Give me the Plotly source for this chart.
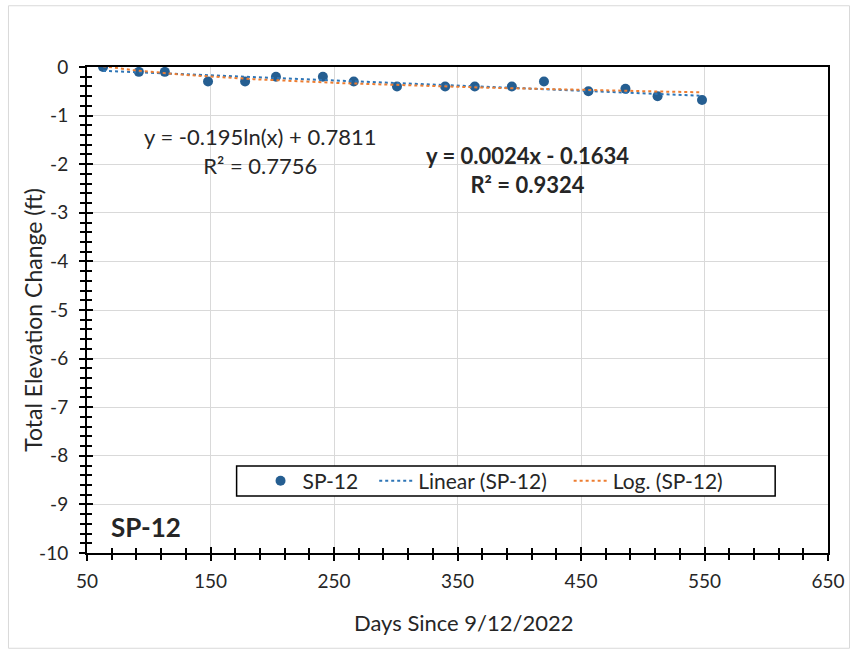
import numpy as np
import plotly.graph_objects as go

# Survey point SP-12: days since baseline vs. cumulative elevation change (ft)
days = [63, 92, 113, 148, 178, 203, 241, 266, 301, 340, 364, 394, 420, 456, 486, 512, 548]
elev_change = [0.0, -0.1, -0.1, -0.3, -0.3, -0.2, -0.2, -0.3, -0.4, -0.4, -0.4, -0.4, -0.3,
               -0.5, -0.45, -0.6, -0.68]

x_ticks = [50, 150, 250, 350, 450, 550, 650]
x_tick_text = ["50", "150", "250", "350", "450", "550", "650"]
y_ticks = [0, -1, -2, -3, -4, -5, -6, -7, -8, -9, -10]
y_tick_text = ["0", "-1", "-2", "-3", "-4", "-5", "-6", "-7", "-8", "-9", "-10"]

series_name = "SP-12"
linear_eq = "y = 0.0024x - 0.1634<br>R² = 0.9324"
log_eq = "y = -0.195ln(x) + 0.7811<br>R² = 0.7756"
y_title = "Total Elevation Change (ft)"
x_title = "Days Since 9/12/2022"

BLUE = "#255E91"
LINE_BLUE = "#2E75B6"
ORANGE = "#ED7D31"
TEXT = "#262626"
FONT = "Lato"

x = np.array(days, dtype=float)
y = np.array(elev_change, dtype=float)

# least-squares trendlines
lin_c = np.polyfit(x, y, 1)
log_c = np.polyfit(np.log(x), y, 1)
xs = np.linspace(x.min(), x.max(), 200)
lin_y = np.polyval(lin_c, xs)
log_y = np.polyval(log_c, np.log(xs))

fig = go.Figure()
fig.add_trace(go.Scatter(x=x, y=y, mode="markers", name=series_name, legend="legend",
                         showlegend=True, marker=dict(color=BLUE, size=10)))
fig.add_trace(go.Scatter(x=xs, y=lin_y, mode="lines", name=f"Linear ({series_name})",
                         legend="legend2", showlegend=True,
                         line=dict(color=LINE_BLUE, width=2, dash="dot")))
fig.add_trace(go.Scatter(x=xs, y=log_y, mode="lines", name=f"Log. ({series_name})",
                         legend="legend3", showlegend=True,
                         line=dict(color=ORANGE, width=2, dash="dot")))
# empty trace that hosts the inner tick axes
fig.add_trace(go.Scatter(x=[], y=[], xaxis="x2", yaxis="y2", showlegend=False,
                         hoverinfo="skip"))

xr = [50, 650]
yr = [-10, 0]
tickfont = dict(family=FONT, size=19, color=TEXT)
tick_common = dict(ticklen=6, tickwidth=1.5, tickcolor="black")


def legend_at(px):
    return dict(orientation="h", x=px, y=0.148, xanchor="left", yanchor="middle",
                borderwidth=0, bgcolor="rgba(0,0,0,0)", itemwidth=34,
                font=dict(family=FONT, size=21, color=TEXT))


fig.update_layout(
    width=857, height=654,
    margin=dict(l=87, r=27, t=67, b=101),
    paper_bgcolor="white", plot_bgcolor="white",
    font=dict(family=FONT, size=19, color=TEXT),
    showlegend=True,
    xaxis=dict(range=xr, tickmode="array", tickvals=x_ticks, ticktext=x_tick_text,
               showgrid=True, gridcolor="#D9D9D9", gridwidth=1,
               showline=True, linecolor="black", linewidth=2, mirror=True,
               ticks="outside", **tick_common, ticklabelstandoff=4,
               minor=dict(dtick=20, tick0=50, ticks="outside", ticklen=5, tickwidth=1.5,
                          tickcolor="black", showgrid=False),
               zeroline=False, tickfont=tickfont),
    yaxis=dict(range=yr, tickmode="array", tickvals=y_ticks, ticktext=y_tick_text,
               showgrid=True, gridcolor="#D9D9D9", gridwidth=1,
               showline=True, linecolor="black", linewidth=2, mirror=True,
               ticks="outside", **tick_common, ticklabelstandoff=7,
               minor=dict(dtick=0.2, ticks="outside", ticklen=5, tickwidth=1.5,
                          tickcolor="black", showgrid=False),
               zeroline=False, tickfont=tickfont),
    xaxis2=dict(range=xr, tickmode="array", tickvals=x_ticks, overlaying="x", anchor="y",
                side="bottom", showgrid=False, zeroline=False, showticklabels=False,
                showline=False, ticks="inside", **tick_common,
                minor=dict(dtick=20, tick0=50, ticks="inside", ticklen=5, tickwidth=1.5,
                           tickcolor="black", showgrid=False)),
    yaxis2=dict(range=yr, tickmode="array", tickvals=y_ticks, overlaying="y", anchor="x",
                side="left", showgrid=False, zeroline=False, showticklabels=False,
                showline=False, ticks="inside", **tick_common,
                minor=dict(dtick=0.2, ticks="inside", ticklen=5, tickwidth=1.5,
                           tickcolor="black", showgrid=False)),
    legend=legend_at(0.2315),
    legend2=legend_at(0.3876),
    legend3=legend_at(0.650),
)

# axis titles
fig.add_annotation(x=-0.072, y=0.479, xref="paper", yref="paper", text=y_title,
                   textangle=-90, showarrow=False, xanchor="center", yanchor="middle",
                   font=dict(family=FONT, size=23, color=TEXT))
fig.add_annotation(x=0.5087, y=-0.142, xref="paper", yref="paper", text=x_title,
                   showarrow=False, xanchor="center", yanchor="middle",
                   font=dict(family=FONT, size=22, color=TEXT))

# trendline equations and series label
fig.add_annotation(x=190, y=-1.73, xref="x", yref="y", text=log_eq, showarrow=False,
                   font=dict(family=FONT, size=22, color=TEXT), align="center")
fig.add_annotation(x=407, y=-2.11, xref="x", yref="y", text=f"<b>{linear_eq}</b>",
                   showarrow=False, font=dict(family=FONT, size=22, color=TEXT),
                   align="center")
fig.add_annotation(x=68, y=-9.47, xref="x", yref="y", text="<b>SP-12</b>", showarrow=False,
                   xanchor="left", font=dict(family=FONT, size=26, color=TEXT))

# legend frame
fig.add_shape(type="rect", xref="paper", yref="paper", x0=0.2019, x1=0.9287,
              y0=0.1173, y1=0.179, line=dict(color="black", width=1.5),
              fillcolor="white", layer="above")
# light outer chart border
fig.add_shape(type="rect", xref="paper", yref="paper", x0=-0.106, x1=1.029, y0=-0.196,
              y1=1.126, line=dict(color="#D9D9D9", width=1))

fig.write_html("out.html")
